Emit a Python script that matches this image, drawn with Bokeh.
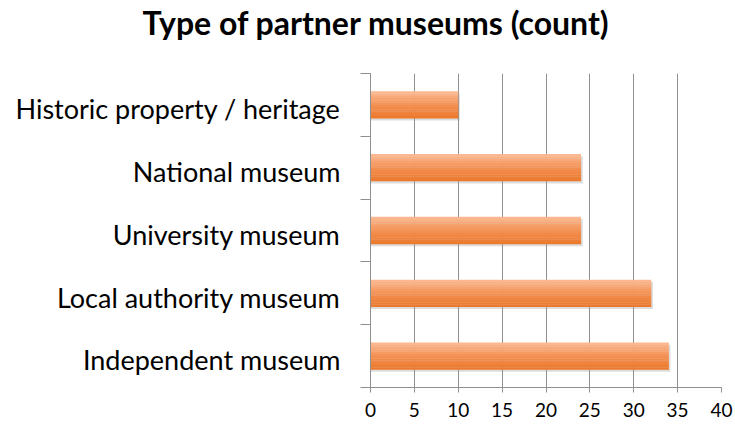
from bokeh.plotting import figure
from bokeh.models import ColumnDataSource, FixedTicker, Range1d, Title
from bokeh.transform import dodge
from bokeh.embed import file_html
from bokeh.resources import INLINE

# ---- data (bottom to top) ----
categories = ["Independent museum", "Local authority museum", "University museum",
              "National museum", "Historic property / heritage"]
counts = [34, 32, 24, 24, 10]
x_ticks = [0, 5, 10, 15, 20, 25, 30, 35, 40]
title_text = "Type of partner museums (count)"

ypos = [i + 0.5 for i in range(len(categories))]
source = ColumnDataSource(dict(y=ypos, value=counts, cat=categories))

FONT = "Lato"

p = figure(width=735, height=426, output_backend="svg", toolbar_location=None,
           x_range=Range1d(0, 40), y_range=Range1d(0, len(categories)),
           min_border_left=370, min_border_right=14, min_border_bottom=39,
           min_border_top=73)
p.outline_line_color = None
p.background_fill_color = "white"
p.border_fill_color = "white"

# spacer panel between frame and title, then the title itself
p.add_layout(Title(text=" ", text_font_size="1px", standoff=29), "above")
p.add_layout(Title(text=title_text, align="left", offset=-228, standoff=0,
                   text_font=FONT, text_font_style="bold", text_font_size="32px",
                   text_color="black"), "above")

# grid
p.ygrid.grid_line_color = None
p.xgrid.grid_line_color = "#8f8f8f"
p.xgrid.grid_line_width = 1
p.xgrid.ticker = FixedTicker(ticks=x_ticks)

# x axis
p.xaxis.ticker = FixedTicker(ticks=x_ticks)
p.xaxis.axis_line_color = "#8f8f8f"
p.xaxis.major_tick_line_color = "#8f8f8f"
p.xaxis.major_tick_out = 5
p.xaxis.major_tick_in = 0
p.xaxis.minor_tick_line_color = None
p.xaxis.major_label_text_font = FONT
p.xaxis.major_label_text_font_size = "19px"
p.xaxis.major_label_text_color = "black"
p.xaxis.major_label_standoff = 10

# y axis: labels near centres, ticks at category boundaries
label_pos = [y - 0.06 for y in ypos]
p.yaxis.ticker = FixedTicker(ticks=label_pos, minor_ticks=list(range(len(categories) + 1)))
p.yaxis.major_label_overrides = {y: c for y, c in zip(label_pos, categories)}
p.yaxis.axis_line_color = "#8f8f8f"
p.yaxis.major_tick_line_color = None
p.yaxis.major_tick_out = 10
p.yaxis.major_tick_in = 0
p.yaxis.minor_tick_line_color = "#8f8f8f"
p.yaxis.minor_tick_out = 10
p.yaxis.minor_tick_in = 0
p.yaxis.major_label_text_font = FONT
p.yaxis.major_label_text_font_size = "27px"
p.yaxis.major_label_text_color = "black"
p.yaxis.major_label_standoff = 20

BAR_H = 0.43

# soft shadow
p.hbar(y=dodge("y", -0.035), left=0, right=dodge("value", 0.18), height=BAR_H,
       source=source, fill_color="#9a9a9a", fill_alpha=0.35, line_color=None)

# gradient-like bar: stacked strips from dark (bottom) to light (top)
top_rgb = (251, 184, 144)
mid_rgb = (243, 144, 82)
bot_rgb = (236, 122, 46)
n = 12
for k in range(n):
    t = k / (n - 1)  # 0 bottom -> 1 top
    if t < 0.5:
        a, b, s = bot_rgb, mid_rgb, t / 0.5
    else:
        a, b, s = mid_rgb, top_rgb, (t - 0.5) / 0.5
    col = "#%02x%02x%02x" % tuple(int(round(a[i] + (b[i] - a[i]) * s)) for i in range(3))
    off = -BAR_H / 2 + (k + 0.5) * BAR_H / n
    p.hbar(y=dodge("y", off), left=0, right="value", height=BAR_H / n + 0.004,
           source=source, fill_color=col, line_color=None)

open("out.html", "w").write(file_html(p, INLINE))
